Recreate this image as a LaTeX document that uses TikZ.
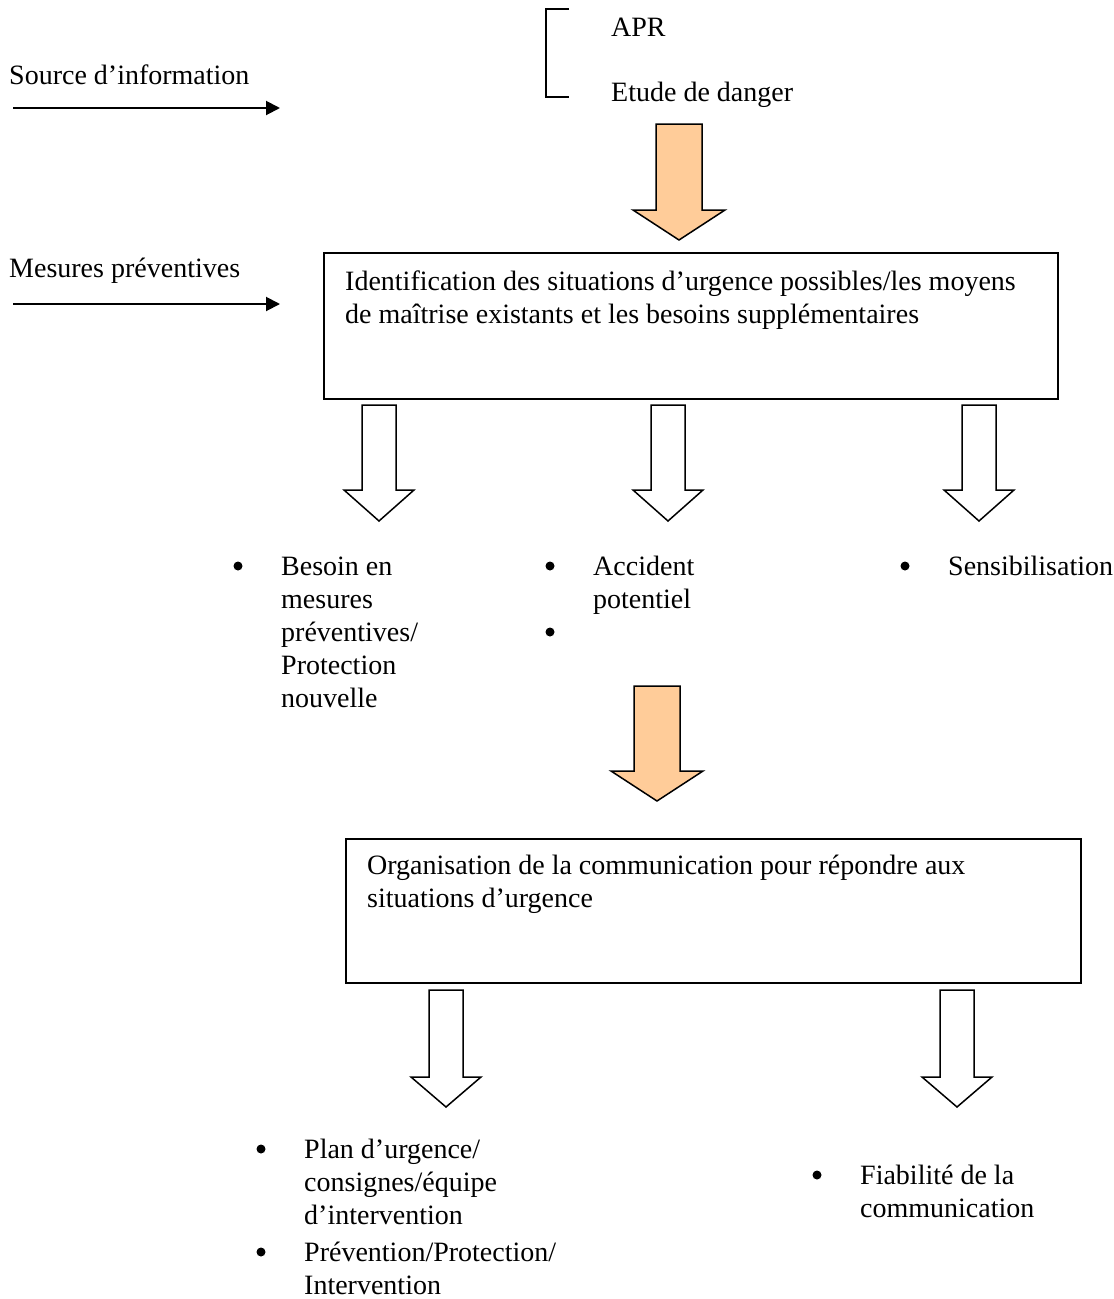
\documentclass[tikz,border=0pt]{standalone}
\usepackage{fontspec}
\setmainfont{Liberation Serif}
\usetikzlibrary{arrows.meta}
\definecolor{peach}{RGB}{255,204,153}
\newcommand{\lignes}[1]{\begin{tabular}[t]{@{}l@{}}#1\end{tabular}}

\tikzset{
  txt/.style={anchor=base west, inner sep=0pt, font=\fontsize{28}{33}\selectfont},
  puce/.style={circle, fill, inner sep=0pt, minimum size=9pt},
  cadre/.style={draw, line width=2pt, anchor=north west, inner sep=0pt},
  fleche/.style={line width=2pt, -{Triangle[length=14pt,width=14pt]}},
  blanche/.style={draw, line width=1.5pt, fill=white},
  orange/.style={draw, line width=1.5pt, fill=peach},
}

\begin{document}
\begin{tikzpicture}[x=1pt, y={(0,-1pt)}]
\useasboundingbox (0,0) rectangle (1114,1299);

% sources a gauche
\node[txt] (source) at (9,84) {Source d’information};
\node[txt] (mesures) at (9,277) {Mesures préventives};
\coordinate (source-a) at (13,108); \coordinate (source-b) at (280,108);
\coordinate (mesures-a) at (13,304); \coordinate (mesures-b) at (280,304);
\draw[fleche] (source-a) -- (source-b);
\draw[fleche] (mesures-a) -- (mesures-b);

% accolade APR / etude de danger
\draw[line width=1.5pt] (569,9) -- (546,9) -- (546,97) -- (569,97);
\node[txt] (apr) at (611,36) {APR};
\node[txt] (etude) at (611,101) {Etude de danger};

% grosse fleche orange 1
\draw[orange] (656,124) -- (702,124) -- (702,210) -- (725,210) -- (679,240)
  -- (633,210) -- (656,210) -- cycle;

% cadre identification
\node[cadre, minimum width=734pt, minimum height=146pt] (ident) at (323,252) {};
\node[txt] (ident-t) at (345,290) {\lignes{Identification des situations d’urgence possibles/les moyens\\de maîtrise existants et les besoins supplémentaires}};

% fleches blanches
\foreach \x in {379,668,979}
  \draw[blanche] (\x-17,405) -- (\x+17,405) -- (\x+17,490) -- (\x+35,490) -- (\x,521)
    -- (\x-35,490) -- (\x-17,490) -- cycle;

% besoins
\node[puce] (p1) at (238,566) {};
\node[txt] (besoin) at (281,575) {\lignes{Besoin en\\mesures\\préventives/\\Protection\\nouvelle}};
\node[puce] (p2) at (550,566) {};
\node[txt] (accident) at (593,575) {\lignes{Accident\\potentiel}};
\node[puce] (p3) at (550,632) {};
\node[puce] (p4) at (905,566) {};
\node[txt] (sensib) at (948,575) {Sensibilisation};

% grosse fleche orange 2
\draw[orange] (634,686) -- (680,686) -- (680,771) -- (703,771) -- (657,801)
  -- (611,771) -- (634,771) -- cycle;

% cadre organisation
\node[cadre, minimum width=735pt, minimum height=144pt] (orga) at (345,838) {};
\node[txt] (orga-t) at (367,874) {\lignes{Organisation de la communication pour répondre aux\\situations d’urgence}};

\foreach \x in {446,957}
  \draw[blanche] (\x-17,990) -- (\x+17,990) -- (\x+17,1077) -- (\x+35,1077) -- (\x,1107)
    -- (\x-35,1077) -- (\x-17,1077) -- cycle;

% reponses
\node[puce] (p5) at (261,1149) {};
\node[txt] (plan) at (304,1158) {\lignes{Plan d’urgence/\\consignes/équipe\\d’intervention}};
\node[puce] (p6) at (261,1252) {};
\node[txt] (prev) at (304,1261) {\lignes{Prévention/Protection/\\Intervention}};
\node[puce] (p7) at (817,1175) {};
\node[txt] (fiab) at (860,1184) {\lignes{Fiabilité de la\\communication}};

\end{tikzpicture}
\end{document}
